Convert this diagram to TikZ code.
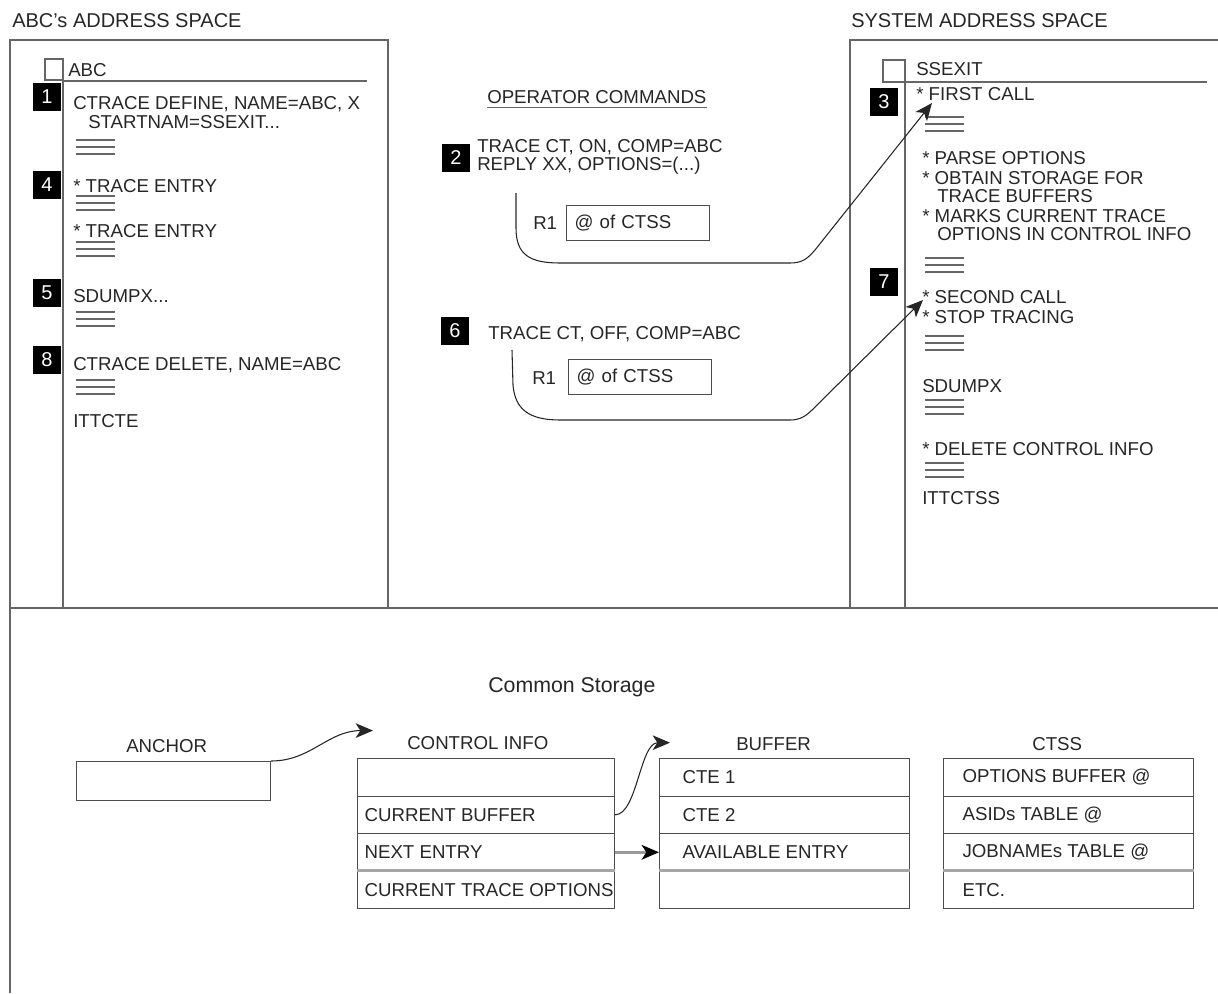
\documentclass[tikz,border=0pt]{standalone}
\usepackage{fontspec}
\setmainfont{Liberation Sans}
\usetikzlibrary{arrows.meta}
\def\bars(#1,#2){\draw[bar] (#1,#2) -- ++(39,0) (#1,#2+7) -- ++(39,0) (#1,#2+14) -- ++(39,0);}
\tikzset{
	frame/.style={draw=black!60, line width=1pt},
	bar/.style={draw=black!60, line width=0.8pt},
	txt/.style={anchor=base west, inner sep=0pt, text=black!85, font=\fontsize{14pt}{16pt}\selectfont},
	ttl/.style={txt, font=\fontsize{15pt}{17pt}\selectfont},
	badge/.style={fill=black, text=white, inner sep=0pt, minimum size=20.5pt, font=\fontsize{15pt}{17pt}\selectfont},
	reg/.style={draw=black!70, line width=0.8pt, anchor=north west, minimum height=26.5pt, text width=95pt, inner xsep=6pt, align=left, text=black!85, font=\fontsize{14pt}{16pt}\selectfont},
	cell/.style={draw=black!70, line width=0.8pt, anchor=north west, minimum height=28.125pt, inner sep=0pt},
	celltxt/.style={anchor=west, inner sep=0pt, xshift=5.5pt, text=black!85, font=\fontsize{14pt}{16pt}\selectfont},
	sep/.style={draw=black!35, line width=2pt},
	arr/.style={draw=black!85, line width=0.8pt, -{Stealth[length=13pt,width=11pt,inset=3.5pt]}},
	grayarr/.style={draw=black!40, line width=2pt, -{Stealth[length=13pt,width=11pt,inset=3.5pt,color=black]}},
}
\begin{document}
\begin{tikzpicture}[x=0.75pt, y=-0.75pt]
		%%%%% START %%%%%
		\useasboundingbox (0,0) rectangle (1218,993);
		
		\node[ttl] (abcsp) at (12,27) {ABC's ADDRESS SPACE};
		\node[ttl] (syssp) at (851,27) {SYSTEM ADDRESS SPACE};
		
		\draw[frame] (10,993) -- (10,40) -- (388,40) -- (388,608);
		\draw[frame] (850,608) -- (850,40) -- (1218,40);
		\draw[frame] (10,608) -- (1218,608);
		
		% ABC's program
		\draw[frame] (45,59) rectangle (63,80);
		\draw[frame] (63,59) -- (63,608);
		\draw[frame] (63,81) -- (367,81);
		\node[txt] (abc) at (68,76) {ABC};
		\node[badge] (b1) at (47,97) {1};
		\node[txt] (define) at (73,109) {CTRACE DEFINE, NAME=ABC, X};
		\node[txt] (startnam) at (88,128) {STARTNAM=SSEXIT...};
		\bars(76,140)
		\node[badge] (b4) at (47,185) {4};
		\node[txt] (entrya) at (73,192) {* TRACE ENTRY};
		\bars(76,196)
		\node[txt] (entryb) at (73,237) {* TRACE ENTRY};
		\bars(76,242)
		\node[badge] (b5) at (47,293) {5};
		\node[txt] (sdumpa) at (73,302) {SDUMPX...};
		\bars(76,312)
		\node[badge] (b8) at (47,360) {8};
		\node[txt] (delete) at (73,370) {CTRACE DELETE, NAME=ABC};
		\bars(76,380)
		\node[txt] (ittcte) at (73,427) {ITTCTE};
		
		% operator commands
		\node[txt] (opc) at (487,103) {OPERATOR COMMANDS};
		\draw[bar] ([yshift=-3.5pt]opc.base west) -- ([yshift=-3.5pt]opc.base east);
		\node[badge] (b2) at (456,158) {2};
		\node[txt] (traceon) at (477,152) {TRACE CT, ON, COMP=ABC};
		\node[txt] (reply) at (477,170) {REPLY XX, OPTIONS=(...)};
		\node[txt] (ra) at (533,229) {R1};
		\node[reg] (ctssa) at (566,205) {@ of CTSS};
		
		\node[badge] (b6) at (455,331) {6};
		\node[txt] (traceoff) at (488,339) {TRACE CT, OFF, COMP=ABC};
		\node[txt] (rb) at (532,384) {R1};
		\node[reg] (ctssb) at (568,359) {@ of CTSS};
		
		% SSEXIT routine
		\draw[frame] (883,60) rectangle (905,82);
		\draw[frame] (905,60) -- (905,608);
		\draw[frame] (905,82) -- (1207,82);
		\node[txt] (ssexit) at (916,75) {SSEXIT};
		\node[badge] (b3) at (884,102) {3};
		\node[txt] (first) at (916,100) {* FIRST CALL};
		\bars(925,117)
		\node[txt] (parse) at (922,164) {* PARSE OPTIONS};
		\node[txt] (obtain) at (922,184) {* OBTAIN STORAGE FOR};
		\node[txt] (tbuf) at (937,202) {TRACE BUFFERS};
		\node[txt] (marks) at (922,222) {* MARKS CURRENT TRACE};
		\node[txt] (opts) at (937,240) {OPTIONS IN CONTROL INFO};
		\bars(925,258)
		\node[badge] (b7) at (884,282) {7};
		\node[txt] (second) at (922,303) {* SECOND CALL};
		\node[txt] (stop) at (922,323) {* STOP TRACING};
		\bars(925,336)
		\node[txt] (sdumpb) at (922,392) {SDUMPX};
		\bars(925,400)
		\node[txt] (delctl) at (922,455) {* DELETE CONTROL INFO};
		\bars(925,463)
		\node[txt] (ittctss) at (922,504) {ITTCTSS};
		
		\coordinate (onstart) at (516,193);
		\coordinate (offstart) at (512,350);
		\draw[arr] (onstart) -- (516,228) .. controls (516,255) and (530,263) .. (560,263) -- (790,263) .. controls (803,263) and (808,258) .. (815,250) -- ([shift={(16,3)}]first.base west);
		\draw[arr] (offstart) -- (513,385) .. controls (515,410) and (530,420) .. (560,420) -- (790,420) .. controls (800,420) and (806,416) .. (812,410) -- ([shift={(1,-3)}]second.base west);
		
		% common storage
		\node[txt, font=\fontsize{16pt}{18pt}\selectfont] (common) at (488,692) {Common Storage};
		
		\node[txt] (anchort) at (126,752) {ANCHOR};
		\node[cell, minimum width=145.5pt, minimum height=29.25pt] (anchor) at (76,761) {};
		
		\node[txt] (ctrlt) at (407,749) {CONTROL INFO};
		\node[cell, minimum width=192.75pt] (ci1) at (357,758) {};
		\node[cell, minimum width=192.75pt] (ci2) at (357,795.5) {};
		\node[cell, minimum width=192.75pt] (ci3) at (357,833) {};
		\node[cell, minimum width=192.75pt] (ci4) at (357,870.5) {};
		\draw[sep] (ci4.north west) -- (ci4.north east);
		\node[celltxt] (ci2t) at (ci2.west) {CURRENT BUFFER};
		\node[celltxt] (ci3t) at (ci3.west) {NEXT ENTRY};
		\node[celltxt] (ci4t) at (ci4.west) {CURRENT TRACE OPTIONS};
		
		\node[txt] (buft) at (736,750) {BUFFER};
		\node[cell, minimum width=187.5pt] (bu1) at (659,758) {};
		\node[cell, minimum width=187.5pt] (bu2) at (659,795.5) {};
		\node[cell, minimum width=187.5pt] (bu3) at (659,833) {};
		\node[cell, minimum width=187.5pt] (bu4) at (659,870.5) {};
		\draw[sep] (bu4.north west) -- (bu4.north east);
		\node[celltxt, xshift=12pt] (bu1t) at (bu1.west) {CTE 1};
		\node[celltxt, xshift=12pt] (bu2t) at (bu2.west) {CTE 2};
		\node[celltxt, xshift=12pt] (bu3t) at (bu3.west) {AVAILABLE ENTRY};
		
		\node[txt] (ctsst) at (1032,750) {CTSS};
		\node[cell, minimum width=187.5pt] (ct1) at (943,758) {};
		\node[cell, minimum width=187.5pt] (ct2) at (943,795.5) {};
		\node[cell, minimum width=187.5pt] (ct3) at (943,833) {};
		\node[cell, minimum width=187.5pt] (ct4) at (943,870.5) {};
		\draw[sep] (ct4.north west) -- (ct4.north east);
		\node[celltxt, xshift=9pt] (ct1t) at (ct1.west) {OPTIONS BUFFER @};
		\node[celltxt, xshift=9pt] (ct2t) at (ct2.west) {ASIDs TABLE @};
		\node[celltxt, xshift=9pt] (ct3t) at (ct3.west) {JOBNAMEs TABLE @};
		\node[celltxt, xshift=9pt] (ct4t) at (ct4.west) {ETC.};
		
		\draw[arr] (anchor.north east) .. controls +(40,0) and +(-45,0) .. ([shift={(-34,-12)}]ctrlt.west);
		\draw[arr] (ci2.east) .. controls +(22,0) and +(-30,0) .. ([shift={(-66,-1)}]buft.west);
		\draw[grayarr] (ci3.east) -- (bu3.west);
		
		%%%%% END %%%%%
	\end{tikzpicture}
\end{document}
